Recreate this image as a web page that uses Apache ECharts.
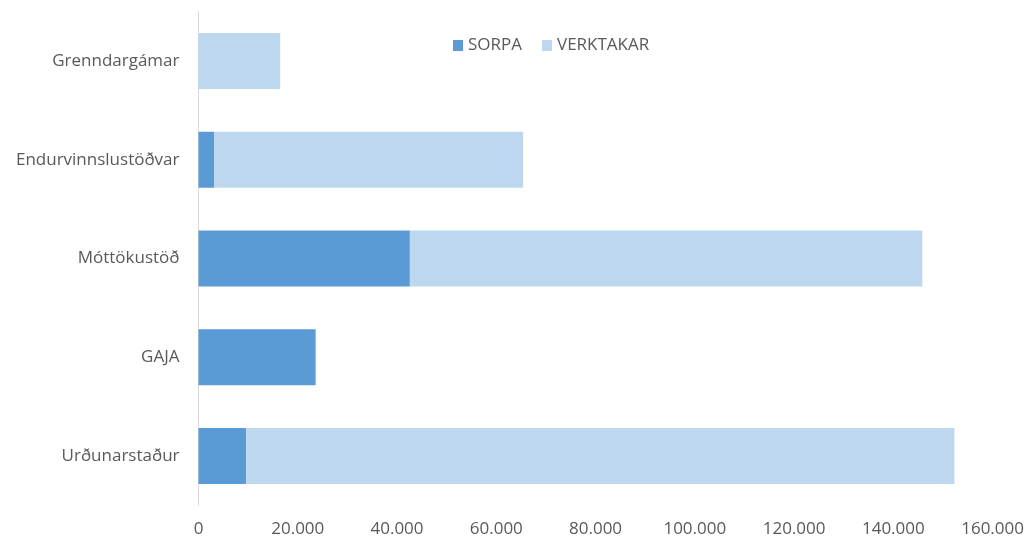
<!DOCTYPE html>
<html>
<head>
<meta charset="utf-8">
<script src="https://cdn.jsdelivr.net/npm/echarts@6/dist/echarts.min.js"></script>
<style>
  html, body { margin: 0; padding: 0; background: #fff; }
  #chart { width: 1027px; height: 539px; }
</style>
</head>
<body>
<div id="chart"></div>
<script>
// top to bottom
var categories = ['Grenndargámar', 'Endurvinnslustöðvar', 'Móttökustöð', 'GAJA', 'Urðunarstaður'];
var sorpa = [0, 3140, 42590, 23600, 9610];
var verktakar = [16470, 62270, 103250, 0, 142690];
var xTicks = [0, 20000, 40000, 60000, 80000, 100000, 120000, 140000, 160000];

var fontFam = '"Open Sans", "Noto Sans", sans-serif';
var textColor = '#595959';

function fmt(v) {
  return String(v).replace(/\B(?=(\d{3})+(?!\d))/g, '.');
}

var myChart = echarts.init(document.getElementById('chart'));

var option = {
  animation: false,
  textStyle: { fontFamily: fontFam },
  legend: {
    left: 453,
    top: 37,
    padding: 0,
    itemWidth: 10,
    itemHeight: 11,
    itemGap: 20,
    textStyle: { color: textColor, fontSize: 17, fontFamily: fontFam },
    data: [
      { name: 'SORPA', icon: 'rect' },
      { name: 'VERKTAKAR', icon: 'rect' }
    ]
  },
  grid: {
    left: 198.5,
    right: 33.5,
    top: 11.6,
    bottom: 33.6,
    containLabel: false
  },
  xAxis: {
    type: 'value',
    min: xTicks[0],
    max: xTicks[xTicks.length - 1],
    interval: xTicks[1] - xTicks[0],
    axisLine: { show: false },
    axisTick: { show: false },
    splitLine: { show: false },
    axisLabel: {
      color: textColor,
      fontSize: 17,
      margin: 15,
      formatter: fmt
    }
  },
  yAxis: {
    type: 'category',
    inverse: true,
    data: categories,
    axisLine: { show: true, lineStyle: { color: '#D9D9D9', width: 1 } },
    axisTick: { show: false },
    axisLabel: { color: textColor, fontSize: 17, margin: 19 }
  },
  series: [
    {
      name: 'SORPA',
      type: 'bar',
      stack: 'total',
      barWidth: 56,
      itemStyle: { color: '#5B9BD5' },
      data: sorpa
    },
    {
      name: 'VERKTAKAR',
      type: 'bar',
      stack: 'total',
      barWidth: 56,
      itemStyle: { color: '#BDD7EE' },
      data: verktakar
    }
  ]
};

myChart.setOption(option);
</script>
</body>
</html>
